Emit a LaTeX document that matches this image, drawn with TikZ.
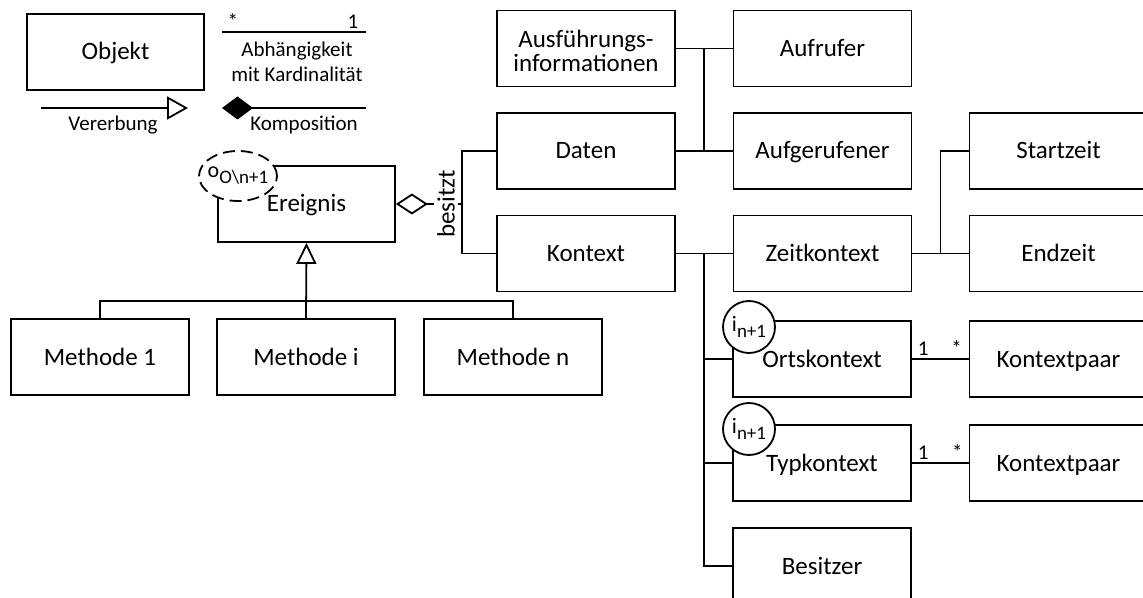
\documentclass[tikz,border=0pt]{standalone}
\usepackage{fontspec}
\setmainfont{Carlito}
\usetikzlibrary{arrows.meta,shapes.geometric,calc}
% lowered, smaller index text for the annotation marks
\newcommand\annsub[1]{\raisebox{-3pt}{\fontsize{9.5}{11}\selectfont #1}}
\begin{document}
\begin{tikzpicture}[x=0.5pt,y=-0.5pt,
  every node/.style={font=\fontsize{12.5}{15}\selectfont},
  box/.style={draw, rectangle, line width=0.9pt, minimum width=89pt,
    minimum height=38pt, inner sep=2pt, align=center,
    text height=8pt, text depth=0pt},
  conn/.style={line width=0.9pt},
  lbl/.style={font=\fontsize{10.5}{12}\selectfont, inner sep=1pt},
  card/.style={font=\fontsize{10.5}{12}\selectfont, inner sep=1.5pt, above},
  ann/.style={draw, fill=white, line width=0.9pt, inner sep=0pt,
    font=\fontsize{11}{13}\selectfont},
]
\useasboundingbox (0,0) rectangle (1143,598);

% ---------- legend ----------
\node[box, minimum width=88.5pt] (obj) at (115.5,52) {Objekt};

\coordinate (d1) at (222,32);
\coordinate (d2) at (366,32);
\draw[conn] (d1) -- node[card,pos=0.075]{*} node[card,pos=0.91]{1} (d2);
\node[lbl, align=center, font=\fontsize{10.5}{12.5}\selectfont] (dlab) at (297,62) {Abhängigkeit\\mit Kardinalität};

\coordinate (v1) at (41,108);
\coordinate (v2) at (188,108);
\draw[conn,-{Triangle[open,length=10.5pt,width=11.5pt]}] (v1) -- (v2);
\node[lbl, anchor=base] (vlab) at (113,131) {Vererbung};

\coordinate (k1) at (222,108);
\coordinate (k2) at (366,108);
\draw[conn,{Diamond[length=15.5pt,width=11.5pt]}-] (k1) -- (k2);
\node[lbl, anchor=base] (klab) at (304,131) {Komposition};

% ---------- classes ----------
\node[box, minimum width=88.5pt] (ereignis) at (306.5,204) {Ereignis};
\node[box] (m1) at (100,357) {Methode 1};
\node[box] (mi) at (306,357) {Methode i};
\node[box] (mn) at (513,357) {Methode n};

\node[box, font=\fontsize{12.5}{12}\selectfont, text height=23.5pt, text depth=0pt] (ausf) at (586,48.5) {Ausführungs-\\informationen};
\node[box] (aufrufer) at (822.5,48.5) {Aufrufer};
\node[box] (daten) at (586,151) {Daten};
\node[box] (aufgerufener) at (822.5,151) {Aufgerufener};
\node[box] (kontext) at (586,253.5) {Kontext};
\node[box] (zeitk) at (822.5,253.5) {Zeitkontext};
\node[box] (startzeit) at (1058.5,151) {Startzeit};
\node[box] (endzeit) at (1058.5,253.5) {Endzeit};
\node[box] (ortsk) at (822,359) {Ortskontext};
\node[box] (typk) at (822,463) {Typkontext};
\node[box] (besitzer) at (822,566) {Besitzer};
\node[box] (kp1) at (1058.5,359) {Kontextpaar};
\node[box] (kp2) at (1058.5,463) {Kontextpaar};

% ---------- inheritance ----------
\coordinate (hb) at (306,301);
\draw[conn] (m1.north) -- (m1.north |- hb) -- (mn.north |- hb) -- (mn.north);
\draw[conn,-{Triangle[open,length=10.5pt,width=10pt]}] (mi.north) -- (ereignis.south);

% ---------- aggregation "besitzt" ----------
\node[rotate=90, inner sep=1.5pt] (besitzt) at (446,204) {besitzt};
\coordinate (bj) at (462,204);
\draw[conn,{Diamond[open,length=16pt,width=10.5pt]}-] (ereignis.east) -- (besitzt.north);
\draw[conn] (besitzt.south) -- (bj);
\draw[conn] (daten.west) -| (bj) |- (kontext.west);

% ---------- Daten ----------
\draw[conn] (ausf.east) -- (aufrufer.west);
\draw[conn] (daten.east) -- (aufgerufener.west);
\draw[conn] ($(ausf.east)!0.5!(aufrufer.west)$) -- ($(daten.east)!0.5!(aufgerufener.west)$);

% ---------- Kontext ----------
\coordinate (kt) at ($(kontext.east)!0.5!(zeitk.west)$);
\draw[conn] (kontext.east) -- (zeitk.west);
\draw[conn] (kt) |- (besitzer.west);
\draw[conn] (kt |- ortsk.west) -- (ortsk.west);
\draw[conn] (kt |- typk.west) -- (typk.west);

\coordinate (zt) at ($(zeitk.east)!0.5!(endzeit.west)$);
\draw[conn] (zeitk.east) -- (endzeit.west);
\draw[conn] (zt) |- (startzeit.west);

\draw[conn] (ortsk.east) -- node[card,pos=0.2]{1} node[card,pos=0.79]{*} (kp1.west);
\draw[conn] (typk.east) -- node[card,pos=0.2]{1} node[card,pos=0.8]{*} (kp2.west);

% ---------- annotation marks ----------
\node[ann, ellipse, dash pattern=on 6pt off 3pt, inner xsep=-3pt, inner ysep=-2pt, minimum width=39pt, minimum height=25pt] (oann) at (238,176) {o\annsub{O\textbackslash n+1}};
\node[ann, circle, minimum size=26pt] (iort) at (749,327) {i\annsub{n+1}};
\node[ann, circle, minimum size=26pt] (ityp) at (749,429) {i\annsub{n+1}};
\end{tikzpicture}
\end{document}
